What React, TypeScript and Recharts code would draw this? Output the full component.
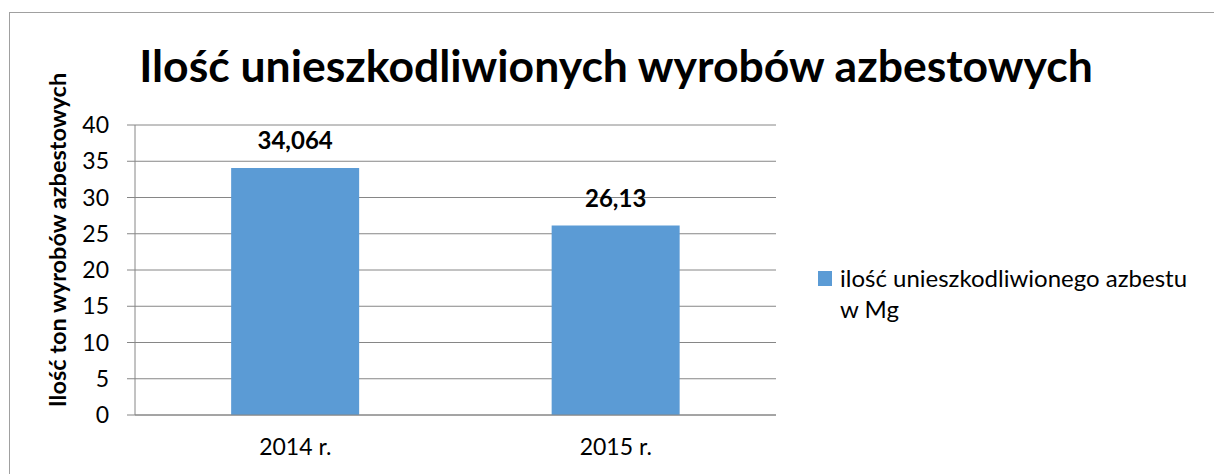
import React from "react";
import {
  BarChart,
  Bar,
  XAxis,
  YAxis,
  CartesianGrid,
  Legend,
  LabelList,
} from "recharts";

const categories = ["2014 r.", "2015 r."];
const values = [34.064, 26.13];
const yTicks = [0, 5, 10, 15, 20, 25, 30, 35, 40];
const seriesName = "ilość unieszkodliwionego azbestu w Mg";
const title = "Ilość unieszkodliwionych wyrobów azbestowych";
const yTitle = "Ilość ton wyrobów azbestowych";

const data = categories.map((c, i) => ({ name: c, pos: i + 0.5, value: values[i] }));

const FONT = "Lato, 'Liberation Sans', sans-serif";
const BLUE = "#5B9BD5";
const GRAY = "#868686";

const fmtPl = (v: any) => String(v).replace(".", ",");

function LegendBox() {
  return (
    <div style={{ display: "flex", alignItems: "flex-start", fontFamily: FONT, fontSize: 24, color: "#000" }}>
      <span style={{ display: "inline-block", flex: "none", width: 14, height: 15, background: BLUE, marginTop: 9, marginRight: 8 }} />
      <span style={{ width: 360, lineHeight: "31px" }}>{seriesName}</span>
    </div>
  );
}

export default function App() {
  return (
    <div style={{ position: "fixed", left: 0, top: 0, width: 1214, height: 474, overflow: "hidden", background: "#fff" }}>
      <div
        style={{
          position: "absolute",
          left: 9,
          top: 12,
          width: 1300,
          height: 600,
          border: "1.5px solid #a0a0a0",
        }}
      />
      <div
        style={{
          position: "absolute",
          left: 0,
          width: 1232,
          top: 38,
          textAlign: "center",
          fontFamily: FONT,
          fontWeight: 700,
          fontSize: 44.5,
          lineHeight: "54px",
          color: "#000",
        }}
      >
        {title}
      </div>
      <div style={{ position: "absolute", left: 0, top: 0 }}>
        <BarChart
          width={1214}
          height={474}
          data={data}
          margin={{ top: 125, right: 58, bottom: 19, left: 60 }}
          barCategoryGap="30%"
        >
          <CartesianGrid horizontal vertical={false} stroke={GRAY} strokeWidth={1} />
          <XAxis
            dataKey="name"
            xAxisId="cat"
            tickLine={false}
            axisLine={{ stroke: GRAY }}
            tick={{ fontFamily: FONT, fontSize: 23, fill: "#000" }}
            tickMargin={18}
            height={40}
          />
          <XAxis
            xAxisId="edges"
            type="number"
            dataKey="pos"
            domain={[0, 2]}
            ticks={[0, 1, 2]}
            tick={false}
            tickLine={{ stroke: GRAY }}
            tickSize={8}
            axisLine={false}
            height={0}
          />
          <YAxis
            domain={[0, 40]}
            ticks={yTicks}
            interval={0}
            tickSize={8}
            tickLine={{ stroke: GRAY }}
            axisLine={{ stroke: GRAY }}
            tick={{ fontFamily: FONT, fontSize: 23, fill: "#000" }}
            tickMargin={18}
            width={75}
            label={{
              value: yTitle,
              angle: -90,
              position: "left",
              offset: 8,
              dx: 6,
              dy: -30,
              fontFamily: FONT,
              fontWeight: 700,
              fontSize: 23.5,
              fill: "#000",
              style: { fontFamily: FONT, fontWeight: 700, fontSize: 23.5, fill: "#000", textAnchor: "middle" },
            }}
          />
          <Legend
            layout="vertical"
            align="right"
            verticalAlign="top"
            content={() => <LegendBox />}
            wrapperStyle={{ left: 818, top: 262, width: 380 }}
          />
          <Bar dataKey="value" xAxisId="cat" name={seriesName} fill={BLUE} isAnimationActive={false}>
            <LabelList
              dataKey="value"
              position="top"
              offset={19}
              formatter={fmtPl}
              style={{ fontFamily: FONT, fontWeight: 700, fontSize: 24, fill: "#000" }}
            />
          </Bar>
        </BarChart>
      </div>
    </div>
  );
}
